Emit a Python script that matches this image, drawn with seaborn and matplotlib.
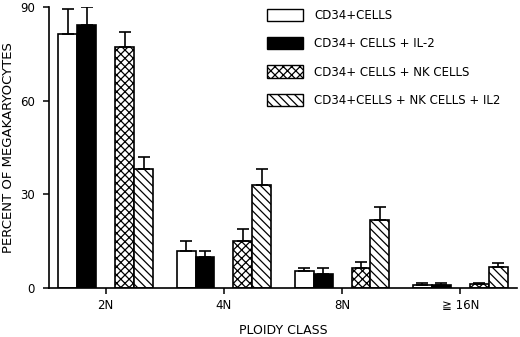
import numpy as np
import pandas as pd
import matplotlib
matplotlib.use("Agg")
import matplotlib.pyplot as plt
import seaborn as sns
from matplotlib.patches import Patch

# values
classes = ["2N", "4N", "8N", "\u2267 16N"]
groups = ["CD34+CELLS", "CD34+ CELLS + IL-2",
          "CD34+ CELLS + NK CELLS", "CD34+CELLS + NK CELLS + IL2"]
cd34 = [81.3, 11.9, 5.5, 1.1]
cd34_il2 = [84.2, 10.0, 4.5, 0.9]
cd34_nk = [77.1, 14.9, 6.3, 1.2]
cd34_nk_il2 = [38.0, 33.0, 21.8, 6.8]
err_cd34 = [7.9, 3.1, 0.9, 0.6]
err_cd34_il2 = [5.9, 1.9, 1.9, 0.6]
err_cd34_nk = [5.0, 3.9, 2.1, 0.5]
err_cd34_nk_il2 = [4.1, 5.0, 4.0, 1.2]

vals = [cd34, cd34_il2, cd34_nk, cd34_nk_il2]
errs = [err_cd34, err_cd34_il2, err_cd34_nk, err_cd34_nk_il2]

rows = []
for g, v, e in zip(groups, vals, errs):
    for c, y, s in zip(classes, v, e):
        rows.append({"cls": c, "grp": g, "pct": y, "err": s})
df = pd.DataFrame(rows)

# empty slot in the middle of every group
gap = "_gap"
hue_order = [groups[0], groups[1], gap, groups[2], groups[3]]
face = {groups[0]: "white", groups[1]: "black", gap: "white",
        groups[2]: "white", groups[3]: "white"}
hatches = {groups[0]: "", groups[1]: "", groups[2]: "xxxx", groups[3]: "\\\\\\\\"}

sns.set_style("ticks")
plt.rcParams["font.family"] = ["DejaVu Sans"]
plt.rcParams["hatch.linewidth"] = 0.9
plt.rcParams["text.color"] = "black"
plt.rcParams["axes.labelcolor"] = "black"
plt.rcParams["xtick.color"] = "black"
plt.rcParams["ytick.color"] = "black"

fig = plt.figure(figsize=(5.2, 3.37), dpi=100)
ax = fig.add_axes([49 / 520, 1 - 288 / 337, 468 / 520, 281 / 337])

sns.barplot(data=df, x="cls", y="pct", hue="grp", order=classes,
            hue_order=hue_order, palette=face, errorbar=None,
            edgecolor="black", linewidth=1.2, width=0.8, legend=False, ax=ax)

# style each bar and add its upward error bar
slot_groups = {0: groups[0], 1: groups[1], 3: groups[2], 4: groups[3]}
for p in ax.patches:
    xc = p.get_x() + p.get_width() / 2
    ci = int(round(xc))
    slot = int(round((xc - ci) / p.get_width())) + 2
    if slot not in slot_groups:
        continue
    g = slot_groups[slot]
    p.set_facecolor("black" if g == groups[1] else "white")
    p.set_hatch(hatches[g])
    row = df[(df.cls == classes[ci]) & (df.grp == g)].iloc[0]
    ax.errorbar(xc, row.pct, yerr=[[0], [row.err]], color="black",
                lw=1.2, capsize=4.5, capthick=1.2, zorder=3)

ax.set_ylim(0, 90)
ax.set_xlim(-0.48, 3.48)
ax.set_yticks([0, 30, 60, 90])
ax.tick_params(axis="both", labelsize=8.5, length=4, width=1.1, color="black")
ax.tick_params(axis="y", pad=6)
ax.tick_params(axis="x", pad=4)
ax.set_ylabel("PERCENT OF MEGAKARYOCYTES", fontsize=9.5, va="center")
ax.set_xlabel("PLOIDY CLASS", fontsize=9, va="center")
ax.yaxis.set_label_coords(-0.087, 0.5)
ax.xaxis.set_label_coords(0.5, -0.152)
sns.despine(ax=ax)
for s in ["left", "bottom"]:
    ax.spines[s].set_linewidth(1.2)
    ax.spines[s].set_color("black")

handles = [Patch(facecolor=face[g], edgecolor="black", hatch=hatches[g],
                 linewidth=1.0) for g in groups]
fig.legend(handles, groups, loc="upper left",
           bbox_to_anchor=(262 / 520, 1 - 4 / 337), frameon=False,
           fontsize=8.5, handlelength=3.1, handleheight=1.2,
           handletextpad=0.9, labelspacing=1.3, borderaxespad=0)

fig.savefig("out.png", dpi=100)
